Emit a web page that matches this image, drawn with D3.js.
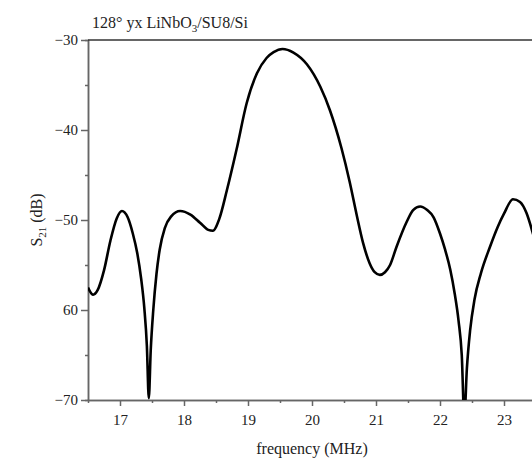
<!DOCTYPE html>
<html>
<head>
<meta charset="utf-8">
<script src="https://cdn.jsdelivr.net/npm/d3@7"></script>
<style>
  body { margin: 0; background: #fff; }
  text { font-family: "Liberation Serif", "Times New Roman", serif; }
</style>
</head>
<body>
<div id="chart"></div>
<script>
// data
var freq = [16.50, 16.58, 16.65, 16.75, 16.85, 16.95, 17.03, 17.12, 17.20, 17.27,
            17.33, 17.38, 17.42, 17.45, 17.48, 17.52, 17.57, 17.62, 17.70, 17.80,
            17.94, 18.10, 18.25, 18.38, 18.45, 18.55, 18.67, 18.82, 18.98, 19.14,
            19.29, 19.40, 19.54, 19.71, 19.92, 20.13, 20.28, 20.46, 20.59, 20.70,
            20.80, 20.90, 20.98, 21.06, 21.14, 21.22, 21.32, 21.48, 21.58, 21.69,
            21.80, 21.90, 22.00, 22.08, 22.16, 22.23, 22.29, 22.34, 22.38, 22.42,
            22.47, 22.54, 22.64, 22.78, 22.90, 23.00, 23.14, 23.25, 23.35, 23.44,
            23.50];
var s21  = [-57.5, -58.3, -57.8, -55.6, -52.3, -49.8, -49.0, -49.7, -51.5, -53.7,
            -56.5, -59.8, -64.0, -69.8, -64.5, -60.0, -56.0, -53.3, -50.9, -49.6,
            -49.0, -49.4, -50.3, -51.1, -51.2, -49.9, -46.7, -42.2, -37.0, -33.7,
            -32.0, -31.35, -31.0, -31.4, -32.7, -35.2, -37.8, -42.0, -45.8, -49.5,
            -52.6, -54.8, -55.8, -56.1, -55.8, -55.0, -53.0, -50.2, -48.9, -48.5,
            -48.9, -49.7, -51.5, -53.3, -55.5, -58.2, -61.2, -65.0, -72.0, -66.5,
            -62.3, -58.8, -55.9, -53.0, -50.8, -49.3, -47.7, -48.0, -49.2, -51.2,
            -52.8];

var xTicks = [17, 18, 19, 20, 21, 22, 23];
var xMinor = [17.5, 18.5, 19.5, 20.5, 21.5, 22.5, 23.5];
var yTicks = [-30, -40, -50, -60, -70];
var yTickLabels = ["\u221230", "\u221240", "\u221250", "60", "\u221270"];
var yMinor = [-35, -45, -55, -65];

var margin = {top: 40, left: 88},
    width = 448,
    height = 360;

var svg = d3.select("#chart")
  .append("svg")
    .attr("width", 532)
    .attr("height", 461);

var g = svg.append("g")
    .attr("transform", "translate(" + margin.left + "," + margin.top + ")");

var x = d3.scaleLinear().domain([16.5, 23.5]).range([0, width]);
var y = d3.scaleLinear().domain([-70, -30]).range([height, 0]);

var axisColor = "#666";

// clip for the curve
svg.append("defs").append("clipPath").attr("id", "plotclip")
  .append("rect").attr("width", width).attr("height", height);

// minor ticks
var xm = g.append("g")
  .attr("transform", "translate(0," + height + ")")
  .call(d3.axisBottom(x).tickValues(xMinor).tickSize(3).tickFormat(""));
var ym = g.append("g")
  .call(d3.axisLeft(y).tickValues(yMinor).tickSize(3).tickFormat(""));

// major axes
var xa = g.append("g")
  .attr("transform", "translate(0," + height + ")")
  .call(d3.axisBottom(x).tickValues(xTicks).tickSize(6).tickPadding(8).tickSizeOuter(0)
    .tickFormat(d3.format("d")));
var ya = g.append("g")
  .call(d3.axisLeft(y).tickValues(yTicks).tickSize(7).tickPadding(3).tickSizeOuter(0)
    .tickFormat(function(d, i) { return yTickLabels[i]; }));

[xm, ym, xa, ya].forEach(function(a) {
  a.selectAll("path, line").attr("stroke", axisColor).attr("stroke-width", 1.5);
  a.selectAll("text")
    .attr("fill", "#222")
    .style("font-size", "15px")
    .style("font-family", "'Liberation Serif', serif");
});

// top frame line
g.append("line")
  .attr("x1", 0).attr("x2", width)
  .attr("y1", 0).attr("y2", 0)
  .attr("stroke", "#333")
  .attr("stroke-width", 1.5);

// curve
var pts = freq.map(function(f, i) { return [f, s21[i]]; });
var line = d3.line()
  .x(function(d) { return x(d[0]); })
  .y(function(d) { return y(d[1]); })
  .curve(d3.curveMonotoneX);

g.append("path")
  .datum(pts)
  .attr("clip-path", "url(#plotclip)")
  .attr("fill", "none")
  .attr("stroke", "#000")
  .attr("stroke-width", 2.6)
  .attr("d", line);

// title
var title = svg.append("text")
  .attr("x", 92).attr("y", 28)
  .attr("fill", "#222")
  .style("font-size", "16px");
title.append("tspan").text("128\u00b0 yx LiNbO");
title.append("tspan").attr("dy", 4).style("font-size", "11px").text("3");
title.append("tspan").attr("dy", -4).text("/SU8/Si");

// x label
svg.append("text")
  .attr("x", 312).attr("y", 454)
  .attr("text-anchor", "middle")
  .attr("fill", "#222")
  .style("font-size", "16px")
  .text("frequency (MHz)");

// y label
var yl = svg.append("text")
  .attr("transform", "translate(42,220) rotate(-90)")
  .attr("text-anchor", "middle")
  .attr("fill", "#222")
  .style("font-size", "16px");
yl.append("tspan").text("S");
yl.append("tspan").attr("dy", 4).style("font-size", "11px").text("21");
yl.append("tspan").attr("dy", -4).text(" (dB)");
</script>
</body>
</html>
